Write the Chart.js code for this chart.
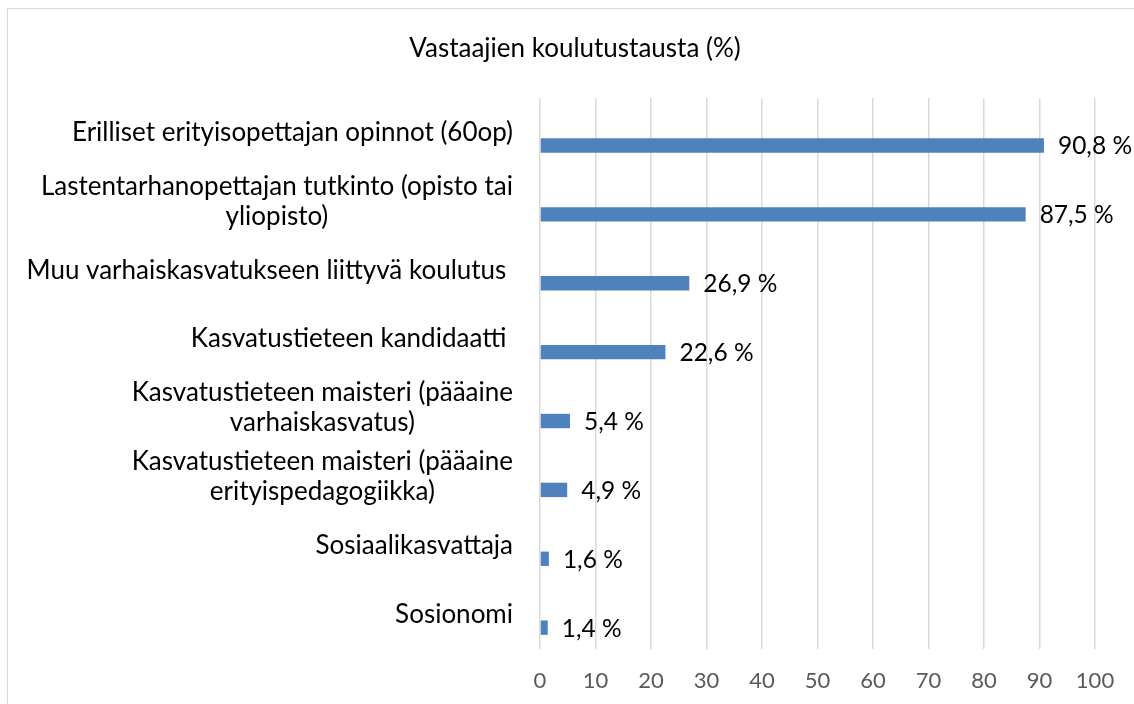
<!DOCTYPE html>
<html>
<head>
<meta charset="utf-8">
<script src="https://cdn.jsdelivr.net/npm/chart.js@4"></script>
<style>
  body { margin: 0; overflow: hidden; background: #fff; }
  #box {
    position: absolute; left: 7px; top: 8px;
    width: 1141px; height: 697px;
    border-left: 1px solid #d9d9d9; border-top: 1px solid #d9d9d9;
  }
  #box canvas { display: block; }
</style>
</head>
<body>
<div id="box"><canvas id="dataChart" width="1140" height="696"></canvas></div>
<script>
const chartTitle = "Vastaajien koulutustausta (%)";

// Category labels (line breaks as in the original chart)
const categories = [
  ["Erilliset erityisopettajan opinnot (60op)"],
  ["Lastentarhanopettajan tutkinto (opisto tai", "yliopisto)"],
  ["Muu varhaiskasvatukseen liittyvä koulutus "],
  ["Kasvatustieteen kandidaatti "],
  ["Kasvatustieteen maisteri (pääaine", "varhaiskasvatus)"],
  ["Kasvatustieteen maisteri (pääaine", "erityispedagogiikka)"],
  ["Sosiaalikasvattaja"],
  ["Sosionomi"],
];

// Share of respondents (%)
const shares = [90.8, 87.5, 26.9, 22.6, 5.4, 4.9, 1.6, 1.4];

// Empty placeholder series, keeps the bar in the lower half of each row
const emptySeries = categories.map(() => null);

const xTicks = [0, 10, 20, 30, 40, 50, 60, 70, 80, 90, 100];

const FONT = "Lato, 'Open Sans', sans-serif";

/**
 * Title, centred on the whole chart box (not on the plot area).
 */
const chartTitlePlugin = {
  id: "chartTitlePlugin",
  afterDraw(chart) {
    const ctx = chart.ctx;
    ctx.save();
    ctx.font = `26px ${FONT}`;
    ctx.fillStyle = "#000";
    ctx.textAlign = "center";
    ctx.textBaseline = "middle";
    ctx.fillText(chartTitle, 567, 40);
    ctx.restore();
  },
};

/**
 * Draw the category labels: each block right-aligned, its lines centred.
 */
const categoryLabels = {
  id: "categoryLabels",
  afterDraw(chart) {
    const ctx = chart.ctx;
    const yScale = chart.scales.y;
    const right = 505;
    const lineHeight = 30;
    ctx.save();
    ctx.font = `26px ${FONT}`;
    ctx.fillStyle = "#000";
    ctx.textAlign = "center";
    ctx.textBaseline = "middle";
    categories.forEach((lines, i) => {
      const y = yScale.getPixelForTick(i);
      const maxW = Math.max(...lines.map((l) => ctx.measureText(l).width));
      const cx = right - maxW / 2;
      const top = y - ((lines.length - 1) * lineHeight) / 2;
      lines.forEach((line, j) => ctx.fillText(line, cx, top + j * lineHeight));
    });
    ctx.restore();
  },
};

/**
 * Value labels to the right of each bar, e.g. "90,8 %".
 */
const valueLabels = {
  id: "valueLabels",
  afterDatasetsDraw(chart) {
    const ctx = chart.ctx;
    const meta = chart.getDatasetMeta(1);
    ctx.save();
    ctx.font = `24.5px ${FONT}`;
    ctx.fillStyle = "#000";
    ctx.textAlign = "left";
    ctx.textBaseline = "middle";
    meta.data.forEach((bar, i) => {
      const text = shares[i].toFixed(1).replace(".", ",") + " %";
      ctx.fillText(text, bar.x + 14, bar.y + 1);
    });
    ctx.restore();
  },
};

function initializeChart() {
  const ctx = document.getElementById("dataChart").getContext("2d");
  new Chart(ctx, {
    type: "bar",
    data: {
      labels: categories,
      datasets: [
        { label: "", data: emptySeries, backgroundColor: "#4f81bd" },
        {
          label: chartTitle,
          data: shares,
          backgroundColor: "#4f81bd",
        },
      ],
    },
    options: {
      indexAxis: "y",
      responsive: false,
      animation: false,
      categoryPercentage: 0.76,
      barPercentage: 0.55,
      layout: { padding: { left: 0, right: 53, top: 89, bottom: 0 } },
      plugins: {
        legend: { display: false },
        tooltip: { enabled: false },
        title: { display: false },
      },
      scales: {
        x: {
          min: 0,
          max: 100,
          afterBuildTicks(scale) {
            scale.ticks = xTicks.map((v) => ({ value: v }));
          },
          afterFit(scale) {
            scale.height = 56;
          },
          grid: { color: "#d9d9d9", lineWidth: 1.5, drawTicks: false },
          border: { display: false },
          ticks: {
            color: "#595959",
            padding: 19,
            font: { family: FONT, size: 22 },
          },
        },
        y: {
          afterFit(scale) {
            scale.width = 532;
          },
          grid: { display: false },
          border: { display: false },
          ticks: { display: false },
        },
      },
    },
    plugins: [chartTitlePlugin, categoryLabels, valueLabels],
  });
}

window.onload = function () {
  initializeChart();
};
</script>
</body>
</html>
